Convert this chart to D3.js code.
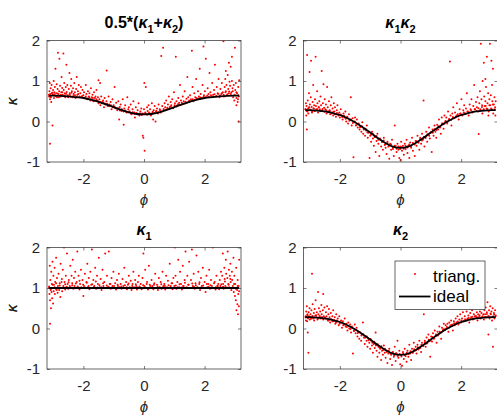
<!DOCTYPE html>
<html>
<head>
<meta charset="utf-8">
<script src="https://cdn.jsdelivr.net/npm/d3@7"></script>
<style>
  body { margin: 0; background: #fff; }
  svg { display: block; }
</style>
</head>
<body>
<svg id="chart"></svg>
<script>
// tick values
var phiTicks = [-2, 0, 2];
var kappaTicks = [-1, 0, 1, 2];

// ideal curves, sampled along phi
var idealPhi = [-3.1416, -3, -2.75, -2.5, -2.25, -2, -1.75, -1.5, -1.25, -1, -0.75, -0.5, -0.25, 0,
  0.25, 0.5, 0.75, 1, 1.25, 1.5, 1.75, 2, 2.25, 2.5, 2.75, 3, 3.1416];
var idealMean = [0.64, 0.64, 0.635, 0.62, 0.6, 0.58, 0.54, 0.485, 0.425, 0.355, 0.285, 0.225, 0.185, 0.175,
  0.185, 0.225, 0.285, 0.355, 0.425, 0.485, 0.54, 0.58, 0.6, 0.62, 0.635, 0.64, 0.64];
var idealGauss = [0.28, 0.28, 0.27, 0.25, 0.21, 0.16, 0.08, -0.02, -0.14, -0.27, -0.41, -0.53, -0.62, -0.65,
  -0.62, -0.53, -0.41, -0.27, -0.14, -0.02, 0.08, 0.16, 0.21, 0.25, 0.27, 0.28, 0.28];
var idealK1 = [1, 1, 1, 1, 1, 1, 1, 1, 1, 1, 1, 1, 1, 1, 1, 1, 1, 1, 1, 1, 1, 1, 1, 1, 1, 1, 1];
var idealK2 = [0.28, 0.28, 0.27, 0.25, 0.21, 0.16, 0.08, -0.02, -0.14, -0.27, -0.41, -0.53, -0.62, -0.65,
  -0.62, -0.53, -0.41, -0.27, -0.14, -0.02, 0.08, 0.16, 0.21, 0.25, 0.27, 0.28, 0.28];

// triangulated estimates [phi, kappa]: scattered cloud
var meanPts = [[-3.13,0.62],[-3.12,0.75],[-3.11,0.95],[-3.1,0.55],[-3.1,-0.55],[-3.09,0.68],[-3.08,0.82],[-3.07,0.6],[-3.06,0.48],[-3.05,0.9],[-3.04,0.7],[-3.02,-0.1],[-3.01,0.66],[-3.0,0.78],[-2.98,1.0],[-2.97,0.58],[-2.96,0.72],[-2.94,0.85],[-2.93,0.64],[-2.92,1.3],[-2.9,0.7],[-2.88,0.92],[-2.87,0.6],[-2.85,0.8],[-2.84,1.7],[-2.82,0.68],[-2.8,0.75],[-2.79,1.55],[-2.77,0.88],[-2.75,0.62],[-2.73,0.72],[-2.72,1.1],[-2.7,0.83],[-2.68,0.66],[-2.66,1.68],[-2.65,0.78],[-2.63,0.95],[-2.61,0.7],[-2.6,0.6],[-2.58,0.85],[-2.56,1.4],[-2.55,0.73],[-2.53,0.9],[-2.51,0.65],
  [-2.48,0.8],[-2.46,1.2],[-2.45,0.7],[-2.43,0.62],[-2.41,0.88],[-2.4,1.05],[-2.38,0.75],[-2.36,0.6],[-2.34,0.82],[-2.32,0.68],[-2.3,0.95],[-2.28,0.72],[-2.26,0.58],[-2.24,0.8],[-2.22,1.1],[-2.2,0.66],[-2.18,0.75],[-2.15,0.9],[-2.13,0.62],[-2.1,0.7],[-2.08,0.85],[-2.05,0.6],[-2.03,0.78],[-2.0,0.65],[-1.98,0.72],[-1.95,0.58],[-1.92,0.9],[-1.9,0.68],[-1.87,0.55],[-1.85,0.75],[-1.82,0.62],[-1.8,0.7],[-1.77,0.52],[-1.75,0.82],[-1.72,0.6],[-1.7,0.66],[-1.67,0.5],[-1.65,0.72],[-1.62,0.58],[-1.6,0.62],[-1.57,0.78],[-1.55,0.52],[-1.52,0.6],[-1.5,0.45],[-1.23,1.26],[-1.5,1.02],[-1.45,0.95],
  [-1.47,0.55],[-1.44,0.4],[-1.41,0.62],[-1.38,0.48],[-1.35,0.52],[-1.32,0.35],[-1.3,0.58],[-1.27,0.44],[-1.24,0.5],[-1.2,0.38],[-1.17,0.62],[-1.14,0.42],[-1.1,0.48],[-1.07,0.3],[-1.04,0.55],[-1.0,0.4],[-0.97,0.85],[-0.95,0.34],[-0.92,0.46],[-0.88,0.28],[-0.85,0.5],[-0.82,0.05],[-0.8,0.36],[-0.77,0.42],[-0.74,0.26],[-0.7,0.55],[-0.67,-0.08],[-0.65,0.32],[-0.62,0.4],[-0.58,0.22],[-0.55,0.6],[-0.52,0.3],[-0.5,0.35],
  [-0.47,0.25],[-0.44,0.42],[-0.41,0.18],[-0.38,0.3],[-0.35,0.5],[-0.32,0.22],[-0.3,0.1],[-0.27,0.35],[-0.24,0.2],[-0.21,0.28],[-0.18,0.45],[-0.15,0.15],[-0.12,0.25],[-0.09,0.32],[-0.06,0.2],[-0.04,-0.35],[-0.02,-0.4],[0.0,0.3],[0.01,0.95],[0.02,-0.72],[0.04,0.22],[0.06,0.85],[0.08,0.18],[0.1,0.35],[0.12,0.26],[0.15,0.4],[0.18,0.2],[0.2,0.3],[0.23,0.15],[0.26,0.45],[0.28,0.22],[0.3,0.05],[0.32,0.28],[0.35,0.38],[0.38,0.0],[0.4,0.25],[0.43,0.32],[0.46,0.2],[0.48,0.42],
  [0.52,0.3],[0.55,0.22],[0.57,1.62],[0.6,0.38],[0.63,1.82],[0.65,0.28],[0.68,0.45],[0.7,0.35],[0.73,0.52],[0.76,0.3],[0.79,0.42],[0.82,0.62],[0.85,0.36],[0.88,0.48],[0.9,0.4],[0.93,0.55],[0.96,0.33],[0.99,0.72],[1.02,0.45],[1.05,1.6],[1.07,0.5],[1.1,0.4],[1.13,0.58],[1.16,0.46],[1.19,0.9],[1.22,0.52],[1.25,0.42],[1.28,0.62],[1.31,0.5],[1.34,0.75],[1.37,0.45],[1.4,0.56],[1.43,1.1],[1.46,0.6],[1.49,0.48],
  [1.52,0.65],[1.55,0.55],[1.58,1.75],[1.6,0.85],[1.63,0.5],[1.66,0.7],[1.69,0.6],[1.72,1.05],[1.75,0.55],[1.78,0.75],[1.81,0.62],[1.84,1.3],[1.87,0.68],[1.9,0.58],[1.93,0.9],[1.96,1.85],[1.98,0.65],[2.01,0.75],[2.04,1.55],[2.07,0.6],[2.1,0.82],[2.13,0.68],[2.16,1.2],[2.19,0.72],[2.22,0.6],[2.25,0.95],[2.28,0.66],[2.31,0.78],[2.34,1.4],[2.37,0.62],[2.4,0.85],[2.43,0.7],[2.46,1.05],[2.49,0.6],
  [2.52,0.8],[2.55,0.68],[2.57,0.95],[2.6,0.72],[2.62,1.98],[2.64,0.62],[2.66,0.85],[2.68,1.05],[2.7,0.75],[2.72,0.9],[2.74,0.65],[2.76,1.15],[2.78,0.8],[2.8,0.7],[2.82,0.98],[2.84,0.88],[2.86,1.35],[2.88,0.72],[2.9,1.0],[2.92,0.82],[2.94,0.6],[2.96,0.9],[2.98,0.52],[3.0,1.82],[3.01,0.78],[3.03,0.95],[3.05,0.58],[3.07,0.7],[3.09,0.48],[3.11,0.85],[3.12,0.0],[3.13,0.62],[3.14,1.02],[2.9,1.6],[2.8,1.45],[2.7,1.25],[3.05,0.4],[3.1,0.55]];
// dense band hugging the ideal curve
var meanBand = [[-3.137,0.66],[-3.094,0.61],[-3.021,0.71],[-2.963,0.67],[-2.911,0.63],[-2.857,0.69],[-2.811,0.6],[-2.741,0.66],[-2.694,0.72],[-2.617,0.64],[-2.571,0.68],[-2.503,0.6],[-2.447,0.66],[-2.392,0.71],[-2.331,0.63],[-2.277,0.65],[-2.213,0.61],[-2.164,0.68],[-2.097,0.6],[-2.041,0.63],[-1.977,0.58],[-1.921,0.62],[-1.862,0.57],[-1.803,0.6],[-1.749,0.55],[-1.687,0.58],[-1.633,0.52],[-1.571,0.55],[-1.512,0.5],[-1.451,0.49],[-1.392,0.46],[-1.333,0.47],[-1.271,0.42],[-1.213,0.44],[-1.151,0.38],[-1.092,0.4],[-1.031,0.35],[-0.972,0.36],[-0.913,0.32],[-0.851,0.33],[-0.793,0.27],[-0.731,0.3],[-0.672,0.25],[-0.613,0.27],[-0.552,0.23],[-0.493,0.25],[-0.431,0.2],[-0.372,0.23],[-0.311,0.19],[-0.253,0.21],[-0.191,0.17],[-0.132,0.2],[-0.073,0.16],[-0.012,0.19],[0.047,0.2],[0.108,0.17],[0.167,0.22],[0.229,0.19],[0.288,0.24],[0.347,0.21],[0.409,0.26],[0.468,0.23],[0.527,0.28],[0.589,0.25],[0.648,0.31],[0.707,0.28],[0.769,0.34],[0.828,0.31],[0.887,0.37],[0.949,0.34],[1.008,0.4],[1.067,0.37],[1.129,0.43],[1.188,0.41],[1.247,0.46],[1.309,0.44],[1.368,0.49],[1.427,0.47],[1.489,0.52],[1.548,0.5],[1.607,0.55],[1.669,0.53],[1.728,0.58],[1.787,0.56],[1.849,0.6],[1.908,0.58],[1.967,0.62],[2.029,0.6],[2.088,0.64],[2.147,0.61],[2.209,0.65],[2.268,0.62],[2.327,0.67],[2.389,0.63],[2.448,0.68],[2.507,0.64],[2.569,0.7],[2.628,0.66],[2.687,0.72],[2.749,0.67],[2.808,0.74],[2.867,0.68],[2.929,0.75],[2.988,0.66],[3.047,0.72],[3.109,0.65]];

var gaussPts = [[-3.13,0.3],[-3.12,0.45],[-3.11,0.15],[-3.1,0.38],[-3.09,-0.2],[-3.08,1.64],[-3.07,0.25],[-3.06,0.52],[-3.05,0.32],[-3.04,0.2],[-3.02,0.7],[-3.01,0.35],[-3.0,1.22],[-2.99,0.42],[-2.97,0.28],[-2.96,0.6],[-2.95,1.5],[-2.93,0.36],[-2.92,0.22],[-2.9,0.48],[-2.88,0.9],[-2.87,0.32],[-2.85,0.4],[-2.83,0.26],[-2.82,0.55],[-2.8,1.6],[-2.79,0.38],[-2.77,0.3],[-2.75,0.75],[-2.74,0.45],[-2.72,0.22],[-2.7,0.35],[-2.68,0.5],[-2.66,0.3],[-2.64,0.62],[-2.62,0.4],[-2.6,1.25],[-2.58,0.28],[-2.56,0.45],[-2.54,0.92],[-2.52,0.34],[-2.5,0.55],
  [-2.48,0.3],[-2.46,0.42],[-2.44,0.2],[-2.42,0.85],[-2.4,0.35],[-2.38,0.25],[-2.36,0.5],[-2.34,0.28],[-2.32,0.18],[-2.3,0.4],[-2.28,0.6],[-2.26,0.22],[-2.24,0.32],[-2.22,0.15],[-2.2,0.45],[-2.18,0.25],[-2.16,0.35],[-2.13,0.12],[-2.1,0.28],[-2.08,0.4],[-2.05,0.18],[-2.02,0.22],[-2.0,0.1],[-1.97,0.3],[-1.94,0.15],[-1.91,0.05],[-1.88,0.2],[-1.85,0.1],[-1.82,0.25],[-1.79,0.0],[-1.76,0.12],[-1.73,-0.05],[-1.7,0.18],[-1.67,0.05],[-1.64,0.6],[-1.61,-0.1],[-1.58,0.08],[-1.55,-0.88],[-1.52,-0.02],[-1.5,0.1],
  [-1.47,-0.1],[-1.44,0.05],[-1.41,-0.15],[-1.38,-0.05],[-1.35,-0.2],[-1.32,-0.12],[-1.29,-0.25],[-1.26,-0.02],[-1.23,-0.3],[-1.2,-0.18],[-1.17,-0.35],[-1.14,-0.22],[-1.11,-0.1],[-1.08,-0.4],[-1.05,-0.28],[-1.02,-0.9],[-1.0,-0.35],[-0.97,-0.5],[-0.94,-0.25],[-0.91,-0.42],[-0.88,-0.6],[-0.85,-0.38],[-0.82,-0.75],[-0.79,-0.48],[-0.76,-0.3],[-0.73,-0.55],[-0.7,-0.85],[-0.67,-0.45],[-0.64,-0.62],[-0.61,-0.5],[-0.58,-0.7],[-0.55,-0.4],[-0.52,-0.58],
  [-0.49,-0.65],[-0.46,-0.8],[-0.43,-0.5],[-0.4,-0.62],[-0.37,-0.92],[-0.34,-0.55],[-0.31,-0.7],[-0.28,-0.45],[-0.25,-0.68],[-0.22,-0.85],[-0.19,-0.1],[-0.16,-0.6],[-0.13,-0.75],[-0.1,-0.55],[-0.07,-0.7],[-0.04,-0.9],[-0.01,-0.62],[0.0,-0.95],[0.02,-0.5],[0.05,-0.72],[0.08,-0.6],[0.11,-0.82],[0.14,-0.55],[0.17,-0.68],[0.2,-0.45],[0.23,-0.78],[0.26,-0.6],[0.29,-0.9],[0.32,-0.52],[0.35,-0.65],[0.38,-0.4],[0.41,-0.72],[0.44,-0.55],[0.47,-0.85],
  [0.5,-0.48],[0.53,-0.6],[0.56,-0.35],[0.59,-0.52],[0.62,-0.7],[0.65,-0.4],[0.68,-0.55],[0.71,-0.3],[0.74,-0.45],[0.76,0.52],[0.79,-0.62],[0.82,-0.38],[0.85,-0.25],[0.88,-0.5],[0.91,-0.32],[0.94,-0.15],[0.97,-0.42],[1.0,-0.28],[1.03,-0.75],[1.06,-0.2],[1.09,-0.35],[1.12,-0.1],[1.15,-0.25],[1.18,-0.4],[1.21,-0.08],[1.24,-0.2],[1.27,0.05],[1.3,-0.15],[1.33,-0.3],[1.36,0.1],[1.39,-0.05],[1.42,-0.18],[1.45,0.15],[1.48,0.0],
  [1.51,0.1],[1.54,-0.05],[1.57,0.25],[1.6,0.05],[1.63,1.48],[1.65,0.15],[1.68,-0.1],[1.71,0.2],[1.74,0.35],[1.77,0.08],[1.8,0.22],[1.83,0.12],[1.86,0.45],[1.89,0.18],[1.92,0.05],[1.95,0.3],[1.98,0.2],[2.01,0.55],[2.04,0.15],[2.07,0.28],[2.1,0.4],[2.13,0.2],[2.16,0.32],[2.19,0.7],[2.22,0.25],[2.25,0.15],[2.28,0.42],[2.31,0.3],[2.34,0.55],[2.37,0.22],[2.4,0.38],[2.43,0.9],[2.46,0.3],[2.49,0.48],
  [2.52,0.35],[2.54,0.6],[2.56,0.25],[2.58,-0.31],[2.6,0.45],[2.62,0.75],[2.64,0.3],[2.65,1.92],[2.67,0.55],[2.69,0.4],[2.71,1.0],[2.73,0.28],[2.75,1.45],[2.76,0.62],[2.78,0.38],[2.8,0.5],[2.82,0.85],[2.84,0.32],[2.85,1.6],[2.87,0.45],[2.89,0.7],[2.91,0.25],[2.93,0.55],[2.95,1.92],[2.96,0.4],[2.98,0.65],[3.0,1.5],[3.01,0.3],[3.03,0.5],[3.05,1.3],[3.06,0.2],[3.08,0.42],[3.1,0.6],[3.12,0.35],[3.13,0.15],[3.14,0.5],[2.7,0.2],[2.9,0.15],[3.02,0.9],[2.8,1.05]];
var gaussBand = [[-3.137,0.3],[-3.094,0.26],[-3.021,0.34],[-2.963,0.29],[-2.911,0.25],[-2.857,0.32],[-2.811,0.27],[-2.741,0.3],[-2.694,0.35],[-2.617,0.26],[-2.571,0.31],[-2.503,0.24],[-2.447,0.28],[-2.392,0.23],[-2.331,0.26],[-2.277,0.2],[-2.213,0.24],[-2.164,0.18],[-2.097,0.21],[-2.041,0.15],[-1.977,0.17],[-1.921,0.11],[-1.862,0.14],[-1.803,0.07],[-1.749,0.1],[-1.687,0.02],[-1.633,0.05],[-1.571,-0.04],[-1.512,0.0],[-1.451,-0.08],[-1.392,-0.06],[-1.333,-0.14],[-1.271,-0.12],[-1.213,-0.2],[-1.151,-0.18],[-1.092,-0.27],[-1.031,-0.25],[-0.972,-0.33],[-0.913,-0.3],[-0.851,-0.38],[-0.793,-0.36],[-0.731,-0.45],[-0.672,-0.42],[-0.613,-0.5],[-0.552,-0.47],[-0.493,-0.56],[-0.431,-0.53],[-0.372,-0.6],[-0.311,-0.57],[-0.253,-0.64],[-0.191,-0.6],[-0.132,-0.67],[-0.073,-0.62],[-0.012,-0.68],[0.047,-0.63],[0.108,-0.67],[0.167,-0.6],[0.229,-0.64],[0.288,-0.57],[0.347,-0.61],[0.409,-0.53],[0.468,-0.57],[0.527,-0.49],[0.589,-0.52],[0.648,-0.44],[0.707,-0.47],[0.769,-0.38],[0.828,-0.41],[0.887,-0.32],[0.949,-0.35],[1.008,-0.26],[1.067,-0.28],[1.129,-0.19],[1.188,-0.21],[1.247,-0.12],[1.309,-0.14],[1.368,-0.05],[1.427,-0.07],[1.489,0.01],[1.548,-0.01],[1.607,0.06],[1.669,0.04],[1.728,0.11],[1.787,0.09],[1.849,0.15],[1.908,0.13],[1.967,0.19],[2.029,0.17],[2.088,0.22],[2.147,0.2],[2.209,0.25],[2.268,0.22],[2.327,0.28],[2.389,0.24],[2.448,0.3],[2.507,0.26],[2.569,0.33],[2.628,0.28],[2.687,0.36],[2.749,0.3],[2.808,0.38],[2.867,0.31],[2.929,0.4],[2.988,0.32],[3.047,0.42],[3.109,0.3]];

var k1Pts = [[-3.13,1.0],[-3.12,0.85],[-3.11,1.55],[-3.1,0.12],[-3.1,0.7],[-3.09,1.2],[-3.08,0.95],[-3.07,0.5],[-3.06,1.4],[-3.05,0.9],[-3.04,1.1],[-3.03,0.75],[-3.02,1.65],[-3.01,1.0],[-3.0,0.62],[-2.99,1.3],[-2.98,0.92],[-2.97,1.08],[-2.95,1.5],[-2.94,0.85],[-2.93,1.15],[-2.91,0.98],[-2.9,1.75],[-2.88,0.95],[-2.87,1.25],[-2.85,0.88],[-2.84,1.05],[-2.82,1.35],[-2.8,0.95],[-2.78,1.12],[-2.76,0.78],[-2.75,1.6],[-2.73,1.0],[-2.71,1.22],[-2.7,0.92],[-2.68,1.45],[-2.66,1.05],[-2.64,2.0],[-2.62,1.15],[-2.6,0.96],[-2.58,1.3],[-2.56,1.02],[-2.54,1.85],[-2.52,1.1],[-2.5,0.98],
  [-2.48,1.2],[-2.45,1.05],[-2.43,1.55],[-2.41,1.0],[-2.39,1.3],[-2.37,1.12],[-2.35,1.7],[-2.33,0.98],[-2.31,1.25],[-2.29,1.05],[-2.27,1.4],[-2.25,1.0],[-2.22,1.15],[-2.2,1.9],[-2.18,1.02],[-2.16,1.3],[-2.13,0.96],[-2.11,1.1],[-2.08,1.45],[-2.05,1.0],[-2.03,1.2],[-2.0,0.8],[-1.98,1.05],[-1.95,1.35],[-1.92,1.0],[-1.9,1.15],[-1.87,1.6],[-1.85,1.02],[-1.82,1.25],[-1.8,0.97],[-1.77,1.4],[-1.74,1.08],[-1.72,1.95],[-1.7,1.0],[-1.67,1.2],[-1.64,1.05],[-1.61,1.5],[-1.58,0.98],[-1.55,1.3],[-1.52,1.1],[-1.49,1.75],[-1.46,1.02],[-1.43,1.22],[-1.4,0.95],[-1.37,1.45],[-1.34,1.05],[-1.31,1.15],[-1.28,1.85],[-1.25,1.0],[-1.22,1.3],[-1.19,1.02],[-1.16,1.9],[-1.13,1.1],[-1.1,0.98],[-1.07,1.25],[-1.04,1.05],[-1.01,1.4],
  [-0.98,1.0],[-0.95,1.12],[-0.92,0.96],[-0.89,1.2],[-0.86,1.05],[-0.83,1.35],[-0.8,1.0],[-0.77,1.1],[-0.74,0.98],[-0.71,1.22],[-0.68,1.05],[-0.65,1.5],[-0.62,1.0],[-0.59,1.15],[-0.56,0.97],[-0.53,1.08],[-0.5,1.3],[-0.47,1.02],[-0.44,1.18],[-0.41,0.95],[-0.38,1.1],[-0.35,1.4],[-0.32,1.0],[-0.29,1.2],[-0.26,1.05],[-0.23,0.96],[-0.2,1.15],[-0.17,1.3],[-0.14,1.02],[-0.11,1.1],[-0.08,0.97],[-0.05,1.25],[-0.02,1.85],[0.01,1.05],[0.04,1.45],[0.07,1.0],[0.1,1.15],[0.13,0.96],[0.16,1.55],[0.19,1.08],[0.22,1.0],[0.25,1.2],[0.28,1.05],[0.31,0.97],[0.34,1.12],[0.37,1.35],[0.4,1.0],[0.43,1.08],[0.46,0.95],[0.49,1.25],[0.52,1.02],[0.55,1.15],[0.58,0.98],[0.61,1.4],[0.64,1.05],[0.67,1.1],[0.7,0.96],[0.73,1.3],[0.76,1.02],[0.79,1.18],[0.82,1.0],[0.85,1.6],[0.88,1.05],[0.91,1.12],[0.94,0.97],[0.97,1.25],
  [1.0,1.05],[1.02,2.0],[1.04,1.3],[1.07,0.98],[1.1,1.15],[1.13,1.7],[1.16,1.02],[1.19,1.4],[1.22,1.1],[1.25,0.96],[1.28,1.55],[1.31,1.05],[1.34,1.2],[1.37,1.9],[1.4,1.0],[1.43,1.3],[1.46,1.08],[1.49,1.65],[1.52,1.0],[1.55,1.2],[1.58,1.95],[1.61,1.05],[1.64,1.35],[1.67,0.98],[1.7,1.12],[1.73,1.8],[1.76,1.02],[1.79,1.4],[1.82,1.1],[1.85,0.95],[1.88,1.25],[1.91,1.05],[1.94,1.5],[1.97,1.0],[2.0,1.15],[2.03,0.9],[2.06,1.3],[2.09,1.02],[2.12,1.1],[2.15,1.45],[2.18,0.98],[2.21,1.2],[2.24,1.05],[2.27,2.0],[2.3,1.0],[2.33,1.15],[2.36,0.96],[2.39,1.3],[2.42,1.05],[2.45,1.1],[2.48,0.97],
  [2.5,1.2],[2.52,1.05],[2.54,1.4],[2.56,1.0],[2.58,1.3],[2.6,1.85],[2.61,1.1],[2.63,0.98],[2.65,1.5],[2.66,1.22],[2.68,1.05],[2.7,1.7],[2.71,1.35],[2.73,1.0],[2.75,1.25],[2.76,1.9],[2.78,1.1],[2.8,1.45],[2.81,1.02],[2.83,1.3],[2.85,1.6],[2.86,1.15],[2.88,0.95],[2.9,1.4],[2.91,1.2],[2.93,1.05],[2.95,1.75],[2.96,0.9],[2.98,1.3],[3.0,0.8],[3.01,1.1],[3.03,0.7],[3.04,1.5],[3.05,0.45],[3.07,0.95],[3.08,0.6],[3.09,1.2],[3.1,0.35],[3.11,0.85],[3.12,1.05],[3.13,0.55],[3.14,1.7]];
var k1Band = [[-3.131,1.04],[-3.077,0.97],[-3.013,1.08],[-2.952,1.02],[-2.899,1.12],[-2.839,1.0],[-2.781,1.06],[-2.722,1.15],[-2.663,1.01],[-2.601,1.09],[-2.549,1.03],[-2.488,1.14],[-2.421,1.02],[-2.366,1.07],[-2.302,1.0],[-2.249,1.11],[-2.188,1.04],[-2.127,1.18],[-2.069,1.02],[-2.009,1.08],[-1.948,1.01],[-1.889,1.13],[-1.829,1.05],[-1.771,1.0],[-1.709,1.09],[-1.651,1.03],[-1.589,1.16],[-1.531,1.01],[-1.469,1.07],[-1.411,1.02],[-1.349,1.12],[-1.291,1.0],[-1.229,1.06],[-1.171,1.03],[-1.109,1.1],[-1.051,1.01],[-0.989,1.05],[-0.931,1.0],[-0.869,1.08],[-0.811,1.02],[-0.749,1.04],[-0.691,1.0],[-0.629,1.07],[-0.571,1.02],[-0.509,1.11],[-0.451,1.0],[-0.389,1.05],[-0.331,1.02],[-0.269,1.09],[-0.211,1.01],[-0.149,1.04],[-0.091,1.0],[-0.029,1.07],[0.031,1.02],[0.089,1.1],[0.151,1.0],[0.209,1.05],[0.271,1.02],[0.329,1.08],[0.391,1.0],[0.449,1.04],[0.511,1.01],[0.569,1.09],[0.631,1.02],[0.689,1.05],[0.751,1.0],[0.809,1.07],[0.871,1.02],[0.929,1.12],[0.991,1.0],[1.049,1.06],[1.111,1.02],[1.169,1.09],[1.231,1.01],[1.289,1.05],[1.351,1.13],[1.409,1.02],[1.471,1.08],[1.529,1.0],[1.591,1.11],[1.649,1.03],[1.711,1.07],[1.769,1.01],[1.831,1.14],[1.889,1.02],[1.951,1.06],[2.009,1.0],[2.071,1.1],[2.129,1.03],[2.191,1.07],[2.249,1.0],[2.311,1.12],[2.369,1.02],[2.431,1.05],[2.489,1.0],[2.551,1.09],[2.609,1.03],[2.671,1.16],[2.729,1.01],[2.791,1.08],[2.849,1.22],[2.911,1.0],[2.969,1.1],[3.031,0.98],[3.089,1.05],[3.137,0.92]];

var k2Pts = [[-3.13,0.3],[-3.12,0.2],[-3.11,0.42],[-3.1,0.28],[-3.09,0.55],[-3.08,0.18],[-3.07,0.35],[-3.06,-0.1],[-3.05,0.25],[-3.04,-0.6],[-3.03,0.4],[-3.02,0.3],[-3.0,0.5],[-2.99,0.22],[-2.97,0.35],[-2.96,0.28],[-2.94,0.45],[-2.92,1.35],[-2.91,0.3],[-2.9,0.6],[-2.88,0.25],[-2.86,0.38],[-2.85,0.2],[-2.83,0.48],[-2.81,0.32],[-2.8,0.7],[-2.78,0.28],[-2.76,0.4],[-2.74,0.22],[-2.72,0.9],[-2.71,0.35],[-2.69,0.5],[-2.67,0.3],[-2.65,0.42],[-2.63,0.25],[-2.61,0.58],[-2.6,0.35],[-2.58,0.28],[-2.56,0.45],[-2.55,0.85],[-2.53,0.3],[-2.51,0.52],
  [-2.48,0.25],[-2.46,0.4],[-2.44,0.3],[-2.42,0.55],[-2.4,0.2],[-2.38,0.35],[-2.36,0.48],[-2.34,0.28],[-2.32,0.15],[-2.3,0.38],[-2.27,0.22],[-2.25,0.3],[-2.22,0.45],[-2.2,0.18],[-2.17,0.28],[-2.15,0.12],[-2.12,0.35],[-2.1,0.2],[-2.07,0.25],[-2.04,0.08],[-2.02,0.3],[-1.99,0.15],[-1.96,0.2],[-1.93,0.02],[-1.9,0.18],[-1.87,0.1],[-1.84,0.25],[-1.81,0.05],[-1.78,0.12],[-1.75,-0.05],[-1.72,0.15],[-1.69,0.0],[-1.66,0.1],[-1.63,-0.1],[-1.6,0.05],[-1.57,-0.62],[-1.54,-0.05],[-1.51,0.1],
  [-1.48,-0.12],[-1.45,0.02],[-1.42,-0.2],[-1.39,-0.08],[-1.36,-0.25],[-1.33,-0.1],[-1.3,-0.3],[-1.27,-0.15],[-1.24,0.15],[-1.21,-0.22],[-1.18,-0.38],[-1.15,-0.2],[-1.12,-0.3],[-1.09,-0.45],[-1.06,-0.25],[-1.03,-0.35],[-1.0,-0.5],[-0.97,-0.3],[-0.94,-0.42],[-0.91,-0.6],[-0.88,-0.38],[-0.85,-0.48],[-0.82,-0.1],[-0.79,-0.55],[-0.76,-0.7],[-0.73,-0.45],[-0.7,-0.6],[-0.67,-0.5],[-0.64,-0.78],[-0.61,-0.55],[-0.58,-0.65],[-0.55,-0.42],[-0.52,-0.6],
  [-0.49,-0.72],[-0.46,-0.55],[-0.43,-0.85],[-0.4,-0.62],[-0.37,-0.5],[-0.34,-0.75],[-0.31,-0.65],[-0.28,-0.9],[-0.25,-0.58],[-0.22,-0.7],[-0.19,-0.45],[-0.16,-0.8],[-0.13,-0.62],[-0.1,-0.3],[-0.07,-0.72],[-0.04,-0.55],[-0.01,-0.88],[0.02,-0.65],[0.05,-0.92],[0.08,-0.58],[0.11,-0.75],[0.14,-0.5],[0.17,-0.68],[0.2,-0.82],[0.23,-0.55],[0.26,-0.7],[0.29,-0.4],[0.32,-0.62],[0.35,-0.78],[0.38,-0.5],[0.41,-0.6],[0.44,-0.35],[0.47,-0.55],
  [0.5,-0.45],[0.53,-0.62],[0.56,-0.4],[0.59,-0.52],[0.62,-0.3],[0.65,-0.48],[0.68,-0.58],[0.71,-0.35],[0.74,-0.42],[0.77,0.35],[0.8,-0.3],[0.83,-0.45],[0.86,-0.22],[0.89,-0.35],[0.92,-0.15],[0.95,-0.3],[0.98,-0.7],[1.01,-0.2],[1.04,-0.32],[1.07,-0.12],[1.1,-0.25],[1.13,-0.05],[1.16,-0.18],[1.19,-0.35],[1.22,-0.08],[1.25,-0.15],[1.28,0.05],[1.31,-0.1],[1.34,-0.25],[1.37,0.02],[1.4,-0.05],[1.43,0.12],[1.46,-0.02],[1.49,0.08],
  [1.52,0.0],[1.55,0.12],[1.58,-0.08],[1.61,0.15],[1.64,0.05],[1.67,0.2],[1.7,0.1],[1.73,-0.05],[1.76,0.18],[1.79,0.08],[1.82,0.25],[1.85,0.15],[1.88,0.3],[1.91,0.1],[1.94,0.22],[1.97,0.35],[2.0,0.15],[2.03,0.25],[2.06,0.4],[2.09,0.18],[2.12,0.3],[2.15,0.2],[2.18,0.42],[2.21,0.25],[2.24,0.32],[2.27,0.15],[2.3,0.38],[2.33,0.28],[2.36,0.45],[2.39,0.22],[2.42,0.35],[2.45,0.3],[2.48,0.5],
  [2.5,0.28],[2.52,0.4],[2.54,0.2],[2.56,0.35],[2.58,0.55],[2.6,0.3],[2.62,0.42],[2.64,0.25],[2.66,0.95],[2.67,0.38],[2.69,0.5],[2.71,0.3],[2.73,0.6],[2.75,0.22],[2.77,0.45],[2.79,0.35],[2.81,0.52],[2.83,0.28],[2.85,0.4],[2.87,0.65],[2.89,0.3],[2.9,-0.15],[2.92,0.45],[2.94,0.25],[2.96,0.55],[2.98,0.35],[3.0,0.42],[3.02,0.2],[3.04,0.5],[3.06,0.3],[3.08,0.38],[3.1,0.25],[3.12,0.45],[3.14,0.32],[3.05,-0.45]];
var k2Band = [[-3.131,0.27],[-3.077,0.33],[-3.013,0.29],[-2.952,0.24],[-2.899,0.31],[-2.839,0.27],[-2.781,0.33],[-2.722,0.25],[-2.663,0.3],[-2.601,0.27],[-2.549,0.22],[-2.488,0.27],[-2.421,0.24],[-2.366,0.2],[-2.302,0.23],[-2.249,0.18],[-2.188,0.21],[-2.127,0.15],[-2.069,0.18],[-2.009,0.12],[-1.948,0.14],[-1.889,0.08],[-1.829,0.1],[-1.771,0.04],[-1.709,0.06],[-1.651,-0.01],[-1.589,0.01],[-1.531,-0.06],[-1.469,-0.04],[-1.411,-0.11],[-1.349,-0.09],[-1.291,-0.17],[-1.229,-0.14],[-1.171,-0.23],[-1.109,-0.2],[-1.051,-0.29],[-0.989,-0.26],[-0.931,-0.35],[-0.869,-0.33],[-0.811,-0.42],[-0.749,-0.39],[-0.691,-0.47],[-0.629,-0.44],[-0.571,-0.53],[-0.509,-0.5],[-0.451,-0.58],[-0.389,-0.55],[-0.331,-0.62],[-0.269,-0.59],[-0.211,-0.66],[-0.149,-0.61],[-0.091,-0.68],[-0.029,-0.63],[0.031,-0.69],[0.089,-0.62],[0.151,-0.66],[0.209,-0.6],[0.271,-0.63],[0.329,-0.56],[0.391,-0.59],[0.449,-0.51],[0.511,-0.54],[0.569,-0.46],[0.631,-0.49],[0.689,-0.4],[0.751,-0.43],[0.809,-0.34],[0.871,-0.37],[0.929,-0.28],[0.991,-0.3],[1.049,-0.21],[1.111,-0.24],[1.169,-0.15],[1.231,-0.17],[1.289,-0.08],[1.351,-0.1],[1.409,-0.02],[1.471,-0.04],[1.529,0.04],[1.591,0.02],[1.649,0.08],[1.711,0.06],[1.769,0.13],[1.831,0.11],[1.889,0.17],[1.951,0.14],[2.009,0.2],[2.071,0.18],[2.129,0.23],[2.191,0.21],[2.249,0.26],[2.311,0.23],[2.369,0.29],[2.431,0.25],[2.489,0.31],[2.551,0.27],[2.609,0.33],[2.671,0.28],[2.729,0.35],[2.791,0.29],[2.849,0.36],[2.911,0.3],[2.969,0.37],[3.031,0.28],[3.089,0.35],[3.137,0.31]];

var legendLabels = ['triang.', 'ideal'];

var width = 497, height = 420;
var font = 'Arial, "Liberation Sans", Helvetica, sans-serif';
var axisColor = '#262626';
var plotW = 194, plotH = 121.5;

var svg = d3.select('#chart')
  .attr('width', width)
  .attr('height', height)
  .style('font-family', font);

// title parts: [text, kind] where kind is 'n' normal, 'k' greek italic, 's' subscript
var panels = [
  {title: [['0.5*(', 'n'], ['\u03ba', 'k'], ['1', 's'], ['+', 'n'], ['\u03ba', 'k'], ['2', 's'], [')', 'n']],
   pts: meanPts.concat(meanBand), ideal: idealMean, left: 47, top: 40.5},
  {title: [['\u03ba', 'k'], ['1', 's'], ['\u03ba', 'k'], ['2', 's']],
   pts: gaussPts.concat(gaussBand), ideal: idealGauss, left: 303.5, top: 40.5},
  {title: [['\u03ba', 'k'], ['1', 's']],
   pts: k1Pts.concat(k1Band), ideal: idealK1, left: 47, top: 247.5},
  {title: [['\u03ba', 'k'], ['2', 's']],
   pts: k2Pts.concat(k2Band), ideal: idealK2, left: 303.5, top: 247.5, legend: true}
];

var tickFmt = function(d) { return d < 0 ? '-' + Math.abs(d) : d; };

panels.forEach(function(p, i) {
  var x = d3.scaleLinear().domain([-3.2, 3.2]).range([p.left, p.left + plotW]);
  var y = d3.scaleLinear().domain([-1, 2]).range([p.top + plotH, p.top]);
  var g = svg.append('g');

  var clipId = 'clip' + i;
  svg.append('clipPath').attr('id', clipId)
    .append('rect')
    .attr('x', p.left).attr('y', p.top)
    .attr('width', plotW).attr('height', plotH);

  var plot = g.append('g').attr('clip-path', 'url(#' + clipId + ')');

  plot.selectAll('circle')
    .data(p.pts).enter()
    .append('circle')
    .attr('cx', function(d) { return x(d[0]); })
    .attr('cy', function(d) { return y(d[1]); })
    .attr('r', 1.0)
    .attr('fill', '#ff0000');

  var line = d3.line()
    .x(function(d, j) { return x(idealPhi[j]); })
    .y(function(d) { return y(d); })
    .curve(d3.curveMonotoneX);

  plot.append('path')
    .datum(p.ideal)
    .attr('d', line)
    .attr('fill', 'none')
    .attr('stroke', '#000')
    .attr('stroke-width', 1.8);

  // axes, ticks pointing in like matlab
  g.append('g')
    .attr('transform', 'translate(0,' + (p.top + plotH) + ')')
    .call(d3.axisBottom(x).tickValues(phiTicks).tickSizeInner(-3).tickSizeOuter(0).tickPadding(11).tickFormat(tickFmt));
  g.append('g')
    .attr('transform', 'translate(' + p.left + ',0)')
    .call(d3.axisLeft(y).tickValues(kappaTicks).tickSizeInner(-3).tickSizeOuter(0).tickPadding(7).tickFormat(tickFmt));
  g.append('g')
    .attr('transform', 'translate(0,' + p.top + ')')
    .call(d3.axisTop(x).tickValues(phiTicks).tickSizeInner(-3).tickSizeOuter(0).tickFormat(''));
  g.append('g')
    .attr('transform', 'translate(' + (p.left + plotW) + ',0)')
    .call(d3.axisRight(y).tickValues(kappaTicks).tickSizeInner(-3).tickSizeOuter(0).tickFormat(''));

  g.selectAll('.domain').remove();
  g.selectAll('.tick line').attr('stroke', axisColor).attr('stroke-width', 0.6);
  g.selectAll('.tick text')
    .attr('fill', axisColor)
    .style('font-family', font)
    .style('font-size', '15px');

  g.append('rect')
    .attr('x', p.left).attr('y', p.top)
    .attr('width', plotW).attr('height', plotH)
    .attr('fill', 'none')
    .attr('stroke', axisColor)
    .attr('stroke-width', 0.7);

  // title
  var t = g.append('text')
    .attr('x', p.left + plotW / 2)
    .attr('y', p.top - 13)
    .attr('text-anchor', 'middle')
    .style('font-weight', 'bold')
    .style('font-size', '16px')
    .attr('fill', '#000');
  var shift = 0;
  p.title.forEach(function(part) {
    var s = t.append('tspan').text(part[0]);
    if (part[1] === 's') {
      s.style('font-size', '11px').attr('dy', 5 - shift);
      shift = 5;
    } else {
      if (shift) s.attr('dy', -shift);
      shift = 0;
      if (part[1] === 'k') s.style('font-style', 'italic');
    }
  });

  // axis labels
  g.append('text')
    .attr('transform', 'translate(17,' + (p.top + plotH / 2) + ')rotate(-90)')
    .attr('text-anchor', 'middle')
    .style('font-size', '15px')
    .style('font-style', 'italic')
    .attr('fill', axisColor)
    .text('\u03ba');

  g.append('text')
    .attr('x', p.left + plotW / 2)
    .attr('y', p.top + plotH + 43)
    .attr('text-anchor', 'middle')
    .style('font-size', '15px')
    .style('font-style', 'italic')
    .attr('fill', axisColor)
    .text('\u03d5');

  if (p.legend) {
    var lg = g.append('g');
    lg.append('rect')
      .attr('x', 395).attr('y', 261)
      .attr('width', 90).attr('height', 48.5)
      .attr('fill', '#fff')
      .attr('stroke', axisColor)
      .attr('stroke-width', 0.7);
    lg.append('circle')
      .attr('cx', 415).attr('cy', 274)
      .attr('r', 1.0).attr('fill', '#ff0000');
    lg.append('line')
      .attr('x1', 399).attr('x2', 430.5)
      .attr('y1', 296.5).attr('y2', 296.5)
      .attr('stroke', '#000').attr('stroke-width', 1.8);
    lg.selectAll('text.leg')
      .data(legendLabels).enter()
      .append('text')
      .attr('class', 'leg')
      .attr('x', 433)
      .attr('y', function(d, j) { return 281.5 + j * 20.5; })
      .style('font-size', '17px')
      .attr('fill', '#000')
      .text(function(d) { return d; });
  }
});
</script>
</body>
</html>
